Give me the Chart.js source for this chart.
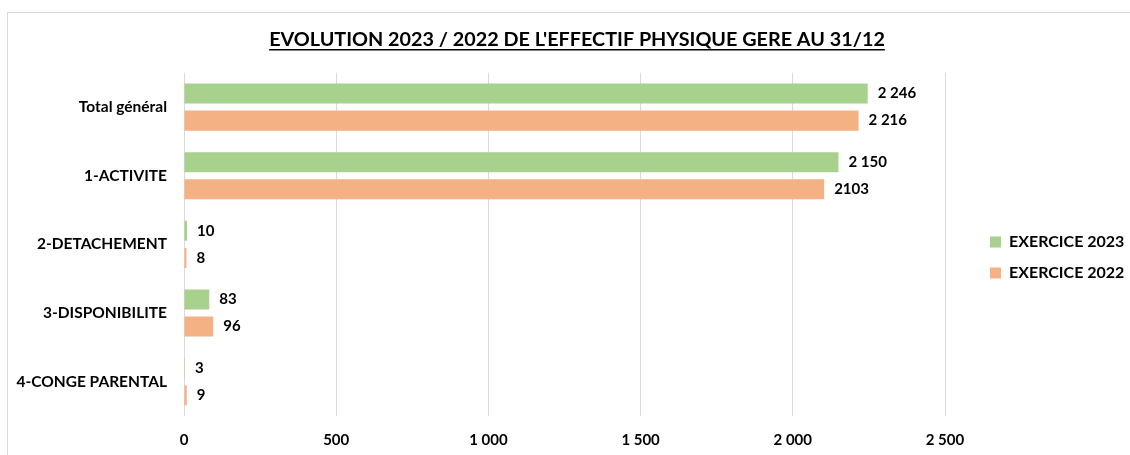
<!DOCTYPE html>
<html>
<head>
<meta charset="utf-8">
<script src="https://cdn.jsdelivr.net/npm/chart.js@4.4.1/dist/chart.umd.min.js"></script>
<style>
  html, body { margin: 0; padding: 0; background: #fff; overflow: hidden; }
  #frame { position: absolute; left: 7px; top: 12px; width: 1200px; height: 500px; border: 1px solid #d9d9d9; }
  #wrap { position: absolute; left: 0; top: 0; width: 1130px; height: 455px; }
</style>
</head>
<body>
<div id="frame"></div>
<div id="wrap"><canvas id="barChart"></canvas></div>
<script>
const categories = ['Total général', '1-ACTIVITE', '2-DETACHEMENT', '3-DISPONIBILITE', '4-CONGE PARENTAL'];
const values2023 = [2246, 2150, 10, 83, 3];
const values2022 = [2216, 2103, 8, 96, 9];
// labels as printed on the chart (the 2103 one has no space in the original)
const text2023 = ['2 246', '2 150', '10', '83', '3'];
const text2022 = ['2 216', '2103', '8', '96', '9'];
const xTicks = [0, 500, 1000, 1500, 2000, 2500];

const FONT = 'Lato';

function spaced(v) {
  return String(v).replace(/\B(?=(\d{3})+(?!\d))/g, ' ');
}

const valueLabels = {
  id: 'valueLabels',
  afterDatasetsDraw(chart) {
    const ctx = chart.ctx;
    const texts = [text2023, text2022];
    ctx.save();
    ctx.font = 'bold 15px ' + FONT;
    ctx.fillStyle = '#000';
    ctx.textAlign = 'left';
    ctx.textBaseline = 'middle';
    chart.data.datasets.forEach((ds, i) => {
      chart.getDatasetMeta(i).data.forEach((bar, j) => {
        ctx.fillText(texts[i][j], bar.x + 10, bar.y);
      });
    });
    ctx.restore();
  }
};

// title underline
const underline = {
  id: 'underline',
  afterDraw(chart) {
    const t = chart.titleBlock;
    const o = t.options;
    const ctx = chart.ctx;
    ctx.save();
    ctx.font = 'bold ' + o.font.size + 'px ' + FONT;
    const w = ctx.measureText(o.text).width;
    const cx = (t.left + t.right) / 2;
    const y = t.top + o.padding.top + o.font.size * 1.2 / 2 + o.font.size * 0.5;
    ctx.strokeStyle = '#000';
    ctx.lineWidth = 1.5;
    ctx.beginPath();
    ctx.moveTo(cx - w / 2, y);
    ctx.lineTo(cx + w / 2, y);
    ctx.stroke();
    ctx.restore();
  }
};

// keep the legend away from the plot, like excel does
const legendPlace = {
  id: 'legendPlace',
  beforeInit(chart) {
    const fit = chart.legend.fit;
    chart.legend.fit = function () {
      fit.call(this);
      this.width = 185;
    };
  },
  afterLayout(chart) {
    const lg = chart.legend;
    lg.left += 30; lg.right += 30;
    lg.top += 33; lg.bottom += 33;
    const t = chart.titleBlock;
    t.left += 12; t.right += 12;
  }
};

const ctx = document.getElementById('barChart');

new Chart(ctx, {
  type: 'bar',
  data: {
    labels: categories,
    datasets: [{
      label: 'EXERCICE 2023',
      data: values2023,
      backgroundColor: '#a9d18e',
      borderWidth: 0,
      categoryPercentage: 0.79,
      barPercentage: 0.74
    }, {
      label: 'EXERCICE 2022',
      data: values2022,
      backgroundColor: '#f4b183',
      borderWidth: 0,
      categoryPercentage: 0.79,
      barPercentage: 0.74
    }]
  },
  options: {
    indexAxis: 'y',
    responsive: true,
    maintainAspectRatio: false,
    animation: false,
    layout: { padding: { left: 0, right: 0, top: 0, bottom: 6 } },
    scales: {
      x: {
        min: 0,
        max: 2500,
        afterBuildTicks(scale) {
          scale.ticks = xTicks.map(v => ({ value: v }));
        },
        afterFit(scale) { scale.height = 33; },
        ticks: {
          callback: v => spaced(v),
          font: { family: FONT, size: 15, weight: 'bold' },
          color: '#000',
          padding: 15,
          maxRotation: 0
        },
        grid: { color: '#d9d9d9', drawTicks: false },
        border: { display: false }
      },
      y: {
        afterFit(scale) { scale.width = 184; },
        ticks: {
          font: { family: FONT, size: 15.5, weight: 'bold' },
          color: '#000',
          padding: 17
        },
        grid: { display: false, drawTicks: false },
        border: { display: false }
      }
    },
    plugins: {
      title: {
        display: true,
        text: "EVOLUTION 2023 / 2022 DE L'EFFECTIF PHYSIQUE GERE AU 31/12",
        font: { family: FONT, size: 19.8, weight: 'bold' },
        color: '#000',
        padding: { top: 28, bottom: 21 }
      },
      legend: {
        position: 'right',
        labels: {
          boxWidth: 11,
          boxHeight: 11,
          padding: 15,
          color: '#000',
          font: { family: FONT, size: 16, weight: 'bold' }
        }
      },
      tooltip: { enabled: false }
    }
  },
  plugins: [valueLabels, underline, legendPlace]
});
</script>
</body>
</html>
